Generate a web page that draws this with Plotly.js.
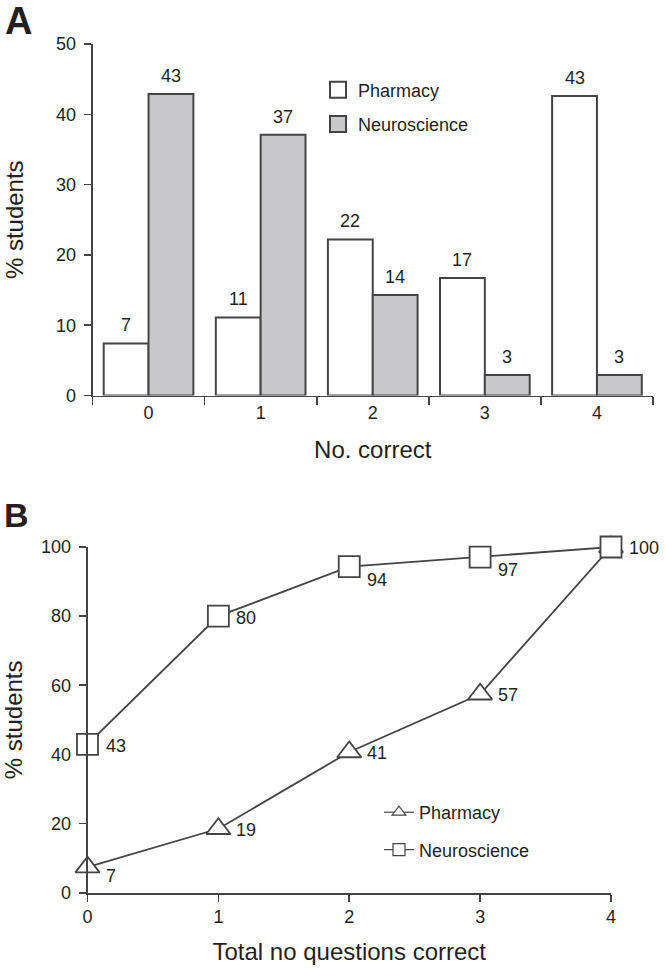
<!DOCTYPE html>
<html><head><meta charset="utf-8">
<script src="https://cdn.plot.ly/plotly-3.0.1.min.js"></script>
<style>html,body{margin:0;padding:0;background:#fff}#chart{width:665px;height:969px}</style>
</head><body><div id="chart"></div>
<script>
// ---- data ----
const categories = ['0', '1', '2', '3', '4'];
const pharmacyPct = [7.4, 11.1, 22.2, 16.7, 42.6];
const neurosciencePct = [42.9, 37.1, 14.3, 2.9, 2.9];
const totalCorrect = [0, 1, 2, 3, 4];
const pharmacyCum = [7.4, 18.5, 40.7, 57.4, 100];
const neuroscienceCum = [42.9, 80.0, 94.3, 97.1, 100];
const barTicks = [0, 10, 20, 30, 40, 50];
const lineTicks = [0, 20, 40, 60, 80, 100];
const seriesNames = ['Pharmacy', 'Neuroscience'];

// ---- style ----
const W = 665, H = 969;
const fx = p => p / W;
const fy = p => 1 - p / H;
const FONT = 'Liberation Sans, Arial, sans-serif';
const TXT = '#231f20';
const LINE = '#444444';
const GRAY = '#c8c8ca';
const pharmLabelDown = [9, 1, 1, 1, 0];
const neuroLabelDown = [2, 2, 13, 13, 1];
const barHalfOffset = 22.4;

const traces = [
  {type: 'bar', x: categories, y: pharmacyPct, name: seriesNames[0], showlegend: false,
   marker: {color: '#ffffff', line: {color: LINE, width: 2}}, xaxis: 'x', yaxis: 'y'},
  {type: 'bar', x: categories, y: neurosciencePct, name: seriesNames[1], showlegend: false,
   marker: {color: GRAY, line: {color: LINE, width: 2}}, xaxis: 'x', yaxis: 'y'},
  // legend entries for panel A
  {type: 'scatter', x: [null], y: [null], mode: 'markers', name: seriesNames[0], legend: 'legend', legendgroup: 'a1',
   marker: {symbol: 'square', size: 16, color: '#ffffff', line: {color: LINE, width: 2}}, xaxis: 'x', yaxis: 'y'},
  {type: 'scatter', x: [null], y: [null], mode: 'markers', name: seriesNames[1], legend: 'legend', legendgroup: 'a2',
   marker: {symbol: 'square', size: 16, color: GRAY, line: {color: LINE, width: 2}}, xaxis: 'x', yaxis: 'y'},
  // panel B lines
  {type: 'scatter', x: totalCorrect, y: pharmacyCum, mode: 'lines+markers', name: seriesNames[0], showlegend: false,
   line: {color: LINE, width: 1.8}, cliponaxis: false,
   marker: {symbol: 'triangle-up', size: 21, color: '#ffffff', line: {color: LINE, width: 1.8}}, xaxis: 'x2', yaxis: 'y2'},
  {type: 'scatter', x: totalCorrect, y: neuroscienceCum, mode: 'lines+markers', name: seriesNames[1], showlegend: false,
   line: {color: LINE, width: 1.8}, cliponaxis: false,
   marker: {symbol: 'square', size: 21, color: '#ffffff', line: {color: LINE, width: 1.8}}, xaxis: 'x2', yaxis: 'y2'},
  // legend entries for panel B
  {type: 'scatter', x: [null], y: [null], mode: 'lines+markers', name: seriesNames[0], legend: 'legend2', legendgroup: 'b1',
   line: {color: LINE, width: 1.2}, marker: {symbol: 'triangle-up', size: 12, color: '#ffffff', line: {color: LINE, width: 1.2}},
   xaxis: 'x2', yaxis: 'y2'},
  {type: 'scatter', x: [null], y: [null], mode: 'lines+markers', name: seriesNames[1], legend: 'legend2', legendgroup: 'b2',
   line: {color: LINE, width: 1.2}, marker: {symbol: 'square', size: 12, color: '#ffffff', line: {color: LINE, width: 1.2}},
   xaxis: 'x2', yaxis: 'y2'}
];

const annotations = [];
const lblFont = {family: FONT, size: 18, color: TXT};
categories.forEach((c, i) => {
  annotations.push({xref: 'x', yref: 'y', x: c, y: pharmacyPct[i], text: String(Math.round(pharmacyPct[i])),
    xshift: -barHalfOffset, yshift: 6, yanchor: 'bottom', showarrow: false, font: lblFont});
  annotations.push({xref: 'x', yref: 'y', x: c, y: neurosciencePct[i], text: String(Math.round(neurosciencePct[i])),
    xshift: barHalfOffset, yshift: 6, yanchor: 'bottom', showarrow: false, font: lblFont});
});
totalCorrect.forEach((t, i) => {
  if (pharmacyCum[i] !== neuroscienceCum[i]) {
    annotations.push({xref: 'x2', yref: 'y2', x: t, y: pharmacyCum[i], text: String(Math.round(pharmacyCum[i])),
      xanchor: 'left', yanchor: 'middle', xshift: 16, yshift: -pharmLabelDown[i], showarrow: false, font: lblFont});
  }
  annotations.push({xref: 'x2', yref: 'y2', x: t, y: neuroscienceCum[i], text: String(Math.round(neuroscienceCum[i])),
    xanchor: 'left', yanchor: 'middle', xshift: 16, yshift: -neuroLabelDown[i], showarrow: false, font: lblFont});
});
annotations.push({xref: 'paper', yref: 'paper', x: fx(18), y: fy(21), text: '<b>A</b>', showarrow: false,
  xanchor: 'center', yanchor: 'middle', font: {family: FONT, size: 38, color: TXT}});
annotations.push({xref: 'paper', yref: 'paper', x: fx(16.5), y: fy(515), text: '<b>B</b>', showarrow: false,
  xanchor: 'center', yanchor: 'middle', font: {family: FONT, size: 34, color: TXT}});

const axisCommon = {
  showline: true, linecolor: LINE, linewidth: 1.8, ticks: 'outside', tickcolor: LINE, tickwidth: 1.6,
  showgrid: false, zeroline: false, fixedrange: true,
  tickfont: {family: FONT, size: 18, color: TXT}
};
const titleFont = {family: FONT, size: 24, color: TXT};

const layout = {
  width: W, height: H,
  margin: {l: 0, r: 0, t: 0, b: 0},
  paper_bgcolor: '#ffffff', plot_bgcolor: '#ffffff',
  font: {family: FONT, color: TXT},
  bargap: 0.2, barmode: 'group',
  xaxis: Object.assign({}, axisCommon, {
    type: 'category', domain: [fx(92.5), fx(653)], anchor: 'y', range: [-0.5, 4.5],
    tickson: 'boundaries', ticklen: 8,
    title: {text: 'No. correct', font: titleFont, standoff: 19}
  }),
  yaxis: Object.assign({}, axisCommon, {
    domain: [fy(395.5), fy(44)], anchor: 'x', range: [0, 50], tickvals: barTicks, ticklen: 7, ticklabelstandoff: 4,
    title: {text: '% students', font: titleFont, standoff: 26}
  }),
  xaxis2: Object.assign({}, axisCommon, {
    domain: [fx(87.5), fx(611)], anchor: 'y2', range: [0, 4], tickvals: totalCorrect, ticklen: 7,
    title: {text: 'Total no questions correct', font: titleFont, standoff: 17}
  }),
  yaxis2: Object.assign({}, axisCommon, {
    domain: [fy(892.7), fy(547)], anchor: 'x2', range: [0, 100], tickvals: lineTicks, ticklen: 7, ticklabelstandoff: 4,
    title: {text: '% students', font: titleFont, standoff: 13}
  }),
  legend: {x: fx(318), y: fy(71.5), xanchor: 'left', yanchor: 'top', bgcolor: 'rgba(0,0,0,0)',
    font: {family: FONT, size: 18, color: TXT}, tracegroupgap: 8, itemwidth: 30},
  legend2: {x: fx(379), y: fy(794), xanchor: 'left', yanchor: 'top', bgcolor: 'rgba(0,0,0,0)',
    font: {family: FONT, size: 18, color: TXT}, tracegroupgap: 11, itemwidth: 30},
  annotations: annotations
};

Plotly.newPlot('chart', traces, layout, {staticPlot: true, displayModeBar: false});
</script>
</body></html>
